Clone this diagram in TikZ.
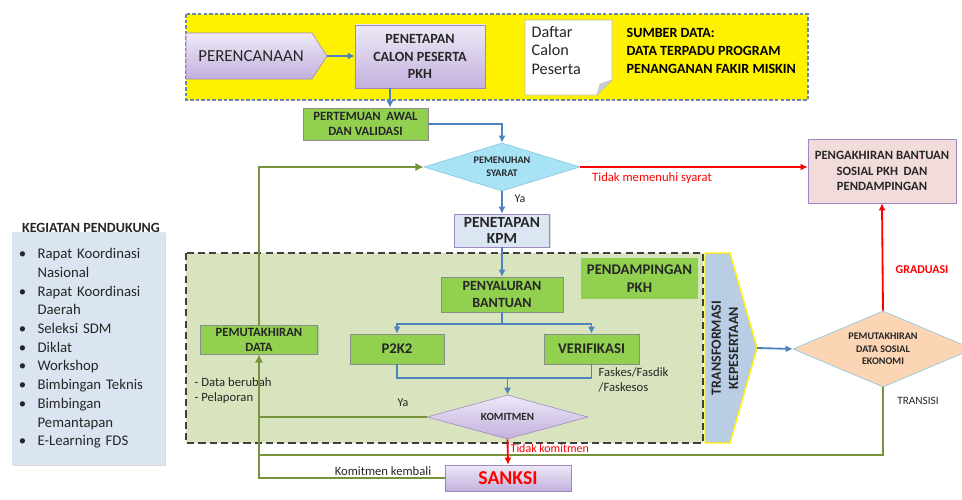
\documentclass[tikz,border=0pt]{standalone}
\usepackage{fontspec}
\setmainfont{Carlito}
\usetikzlibrary{shapes.geometric,arrows.meta,shadows}
\definecolor{lavtop}{HTML}{EEE9F6}
\definecolor{lavbot}{HTML}{C3B0DD}
\definecolor{lavline}{HTML}{9D87C4}
\definecolor{leaf}{HTML}{92D050}
\definecolor{sage}{HTML}{D7E4BD}
\definecolor{flow}{HTML}{4F81BD}
\definecolor{moss}{HTML}{77933C}
\definecolor{sky}{HTML}{A8E3F5}
\definecolor{skyline}{HTML}{7EC4DE}
\definecolor{peach}{HTML}{FCD5B5}
\definecolor{steel}{HTML}{B9CDE5}
\definecolor{mist}{HTML}{DCE6F2}
\definecolor{rose}{HTML}{F2DCDB}
\definecolor{panel}{HTML}{DBE5F1}
\definecolor{dashline}{HTML}{6A86A8}
\definecolor{ink}{HTML}{262626}
\begin{document}
\begin{tikzpicture}[x=0.025cm,y=-0.025cm,
  every node/.style={text=ink,align=center,inner sep=1pt},
  lav/.style={draw=lavline,top color=lavtop,bottom color=lavbot},
  soft/.style={drop shadow={opacity=0.3,shadow xshift=1pt,shadow yshift=-1pt}},
  leafbox/.style={draw=black!45,fill=leaf,soft},
  blueflow/.style={flow,line width=1.3pt,-{Latex[length=5pt,width=5pt]}},
  blueline/.style={flow,line width=1.3pt},
  greenline/.style={moss,line width=1.6pt},
  greenflow/.style={moss,line width=1.6pt,-{Latex[length=6pt,width=6pt]}},
  redflow/.style={red,line width=1.3pt,-{Latex[length=5pt,width=5pt]}}]
\useasboundingbox (0,0) rectangle (962,500);
\coordinate (planTip) at (327,56);
\coordinate (transTip) at (757,348);
\coordinate (split) at (502,324);
\coordinate (merge) at (507.5,378);
\coordinate (transisi) at (259,455);

  \draw[fill=yellow,draw=dashline,line width=0.8pt,dash pattern=on 2.5pt off 1.5pt] (186,14) rectangle (808,100);
  \draw[lav] (186,33) -- (312,33) -- (327,56) -- (312,79) -- (186,79) -- cycle;
  \node (plan) at (251,56) [font=\fontsize{12}{14}\selectfont] {PERENCANAAN};
  \node (calon) at (420,56.5) [lav,soft,minimum width=3.25cm,minimum height=1.575cm,font=\bfseries\fontsize{10}{12.5}\selectfont] {PENETAPAN\\CALON PESERTA\\PKH};
  \draw[fill=white,draw=black!25] (525,20) -- (612,20) -- (612,80) -- (597,95) -- (525,95) -- cycle;
  \draw[fill=black!20,draw=black!25] (612,80) -- (600,84) -- (597,95) -- cycle;
  \node (daftar) at (530,50.5) [anchor=west,align=left,font=\fontsize{11.5}{13.4}\selectfont] {Daftar\\Calon\\Peserta};
  \node (sumber) at (625,51) [anchor=west,align=left,text=black,font=\bfseries\fontsize{10}{12.8}\selectfont] {SUMBER DATA:\\DATA TERPADU PROGRAM\\PENANGANAN FAKIR MISKIN};

  \node (temu) at (365.5,124) [leafbox,minimum width=3.125cm,minimum height=0.8cm,font=\bfseries\fontsize{9}{11}\selectfont] {PERTEMUAN~~AWAL\\DAN VALIDASI};
  \node (syarat) at (502,167) [diamond,aspect=3,draw=skyline,fill=sky,minimum width=3.9cm,minimum height=1.2cm,inner sep=0pt,font=\bfseries\fontsize{7.2}{9}\selectfont] {PEMENUHAN\\SYARAT};
  \node (kpm) at (502,230.5) [draw=lavline,fill=mist,soft,minimum width=2.375cm,minimum height=0.825cm,font=\bfseries\fontsize{11}{12}\selectfont] {PENETAPAN\\KPM};
  \node (akhir) at (882,171) [draw=lavline,fill=rose,soft,minimum width=3.7cm,minimum height=1.6cm,font=\bfseries\fontsize{9}{11.3}\selectfont] {PENGAKHIRAN BANTUAN\\SOSIAL PKH~ DAN\\PENDAMPINGAN};

  \draw[fill=sage,draw=black!75,line width=1.2pt,dash pattern=on 5pt off 3pt] (186,253) rectangle (703,443);
  \node (pkh) at (639.5,278.5) [fill=leaf,minimum width=2.925cm,minimum height=1.025cm,font=\bfseries\fontsize{10.5}{12.5}\selectfont] {PENDAMPINGAN\\PKH};
  \node (salur) at (502,294.5) [leafbox,minimum width=3.05cm,minimum height=0.875cm,font=\bfseries\fontsize{10}{12}\selectfont] {PENYALURAN\\BANTUAN};
  \node (p2k2) at (397,349) [leafbox,minimum width=2.35cm,minimum height=0.75cm,font=\bfseries\fontsize{10.5}{12}\selectfont] {P2K2};
  \node (verif) at (591.5,349) [leafbox,minimum width=2.375cm,minimum height=0.75cm,font=\bfseries\fontsize{10.5}{12}\selectfont] {VERIFIKASI};
  \node (komit) at (507.5,417) [diamond,aspect=3.5,lav,minimum width=4.025cm,minimum height=1.1cm,inner sep=0pt,font=\bfseries\fontsize{7.8}{9}\selectfont] {KOMITMEN};
  \node (mutakhir) at (259,339.5) [leafbox,minimum width=2.925cm,minimum height=0.725cm,font=\bfseries\fontsize{9}{10.8}\selectfont] {PEMUTAKHIRAN\\DATA};
  \node (faskes) at (597,380) [anchor=west,align=left,font=\fontsize{9}{11}\selectfont] {Faskes/Fasdik\\/Faskesos};
  \node (berubah) at (193,390.5) [anchor=west,align=left,font=\fontsize{9}{11}\selectfont] {- Data berubah\\- Pelaporan};

  \draw[fill=steel,draw=yellow,line width=1pt] (705,253) -- (730,253) -- (transTip) -- (730,443) -- (705,443) -- cycle;
  \node (trans) at (725,348) [rotate=90,font=\bfseries\fontsize{10}{12.2}\selectfont] {TRANSFORMASI\\KEPESERTAAN};
  \node (sosek) at (883,349) [diamond,aspect=2.4,draw=skyline,fill=peach,minimum width=4.5cm,minimum height=1.9cm,inner sep=0pt,font=\bfseries\fontsize{7.2}{8.8}\selectfont] {PEMUTAKHIRAN\\DATA SOSIAL\\EKONOMI};
  \node (sanksi) at (508,478) [lav,soft,minimum width=3.15cm,minimum height=0.65cm,text=red,font=\bfseries\fontsize{14}{15}\selectfont] {SANKSI};

  \node (kegiatan) at (88.5,348.5) [fill=panel,soft,minimum width=3.825cm,minimum height=5.825cm,text width=3.475cm,inner sep=0pt,align=left,font=\fontsize{10.5}{13.3}\selectfont] {%
    \begin{tabular}{@{}l@{\hspace{8pt}}l@{}}
    \textbullet & Rapat Koordinasi\\
     & Nasional\\
    \textbullet & Rapat Koordinasi\\
     & Daerah\\
    \textbullet & Seleksi SDM\\
    \textbullet & Diklat\\
    \textbullet & Workshop\\
    \textbullet & Bimbingan Teknis\\
    \textbullet & Bimbingan\\
     & Pemantapan\\
    \textbullet & E-Learning FDS
    \end{tabular}};
  \node (kegTitle) at (91,228) [font=\bfseries\fontsize{10}{12}\selectfont] {KEGIATAN PENDUKUNG};

  \draw[blueflow] (planTip) -- (planTip -| calon.west);
  \draw[blueflow] ([xshift=-0.75cm]calon.south) -- ([xshift=-0.75cm]calon.south |- temu.north);
  \draw[blueflow] (temu.east) -| (syarat.north);
  \draw[blueflow] (syarat.south) -- (kpm.north);
  \node (ya1) at (520,199) [font=\fontsize{8.5}{9}\selectfont] {Ya};
  \draw[blueflow] (kpm.south) -- (salur.north);
  \draw[blueline] (salur.south) -- (split);
  \draw[blueflow] (split) -| (p2k2.north);
  \draw[blueflow] (split) -| (verif.north);
  \draw[blueline] (p2k2.south) |- (merge);
  \draw[blueline] (verif.south) |- (merge);
  \draw[blueflow] (merge) -- (komit.north);
  \draw[blueflow] (transTip) -- (sosek.west);

  \draw[greenflow] (mutakhir.north) |- (syarat.west);
  \draw[greenline] (komit.west) -- (komit.west -| mutakhir.south);
  \node (ya2) at (403,403) [font=\fontsize{8.5}{9}\selectfont] {Ya};
  \draw[greenline] (sosek.south) |- (transisi);
  \node (transLbl) at (918,401) [font=\fontsize{8}{9}\selectfont] {TRANSISI};
  \draw[greenflow] (sanksi.west) -| (mutakhir.south);
  \node (kembali) at (383,471) [font=\fontsize{9}{10}\selectfont] {Komitmen kembali};

  \draw[redflow] (syarat.east) -- (syarat.east -| akhir.west);
  \node (tidak1) at (652,178) [text=red,font=\fontsize{9}{10}\selectfont] {Tidak memenuhi syarat};
  \draw[redflow] (komit.south) -- (sanksi.north);
  \node (tidak2) at (509,448) [anchor=west,text=red,font=\fontsize{8.5}{9}\selectfont] {Tidak komitmen};
  \draw[redflow] (sosek.north) -- (akhir.south);
  \node (graduasi) at (922,270) [text=red,font=\bfseries\fontsize{8.5}{10}\selectfont] {GRADUASI};
\end{tikzpicture}
\end{document}
